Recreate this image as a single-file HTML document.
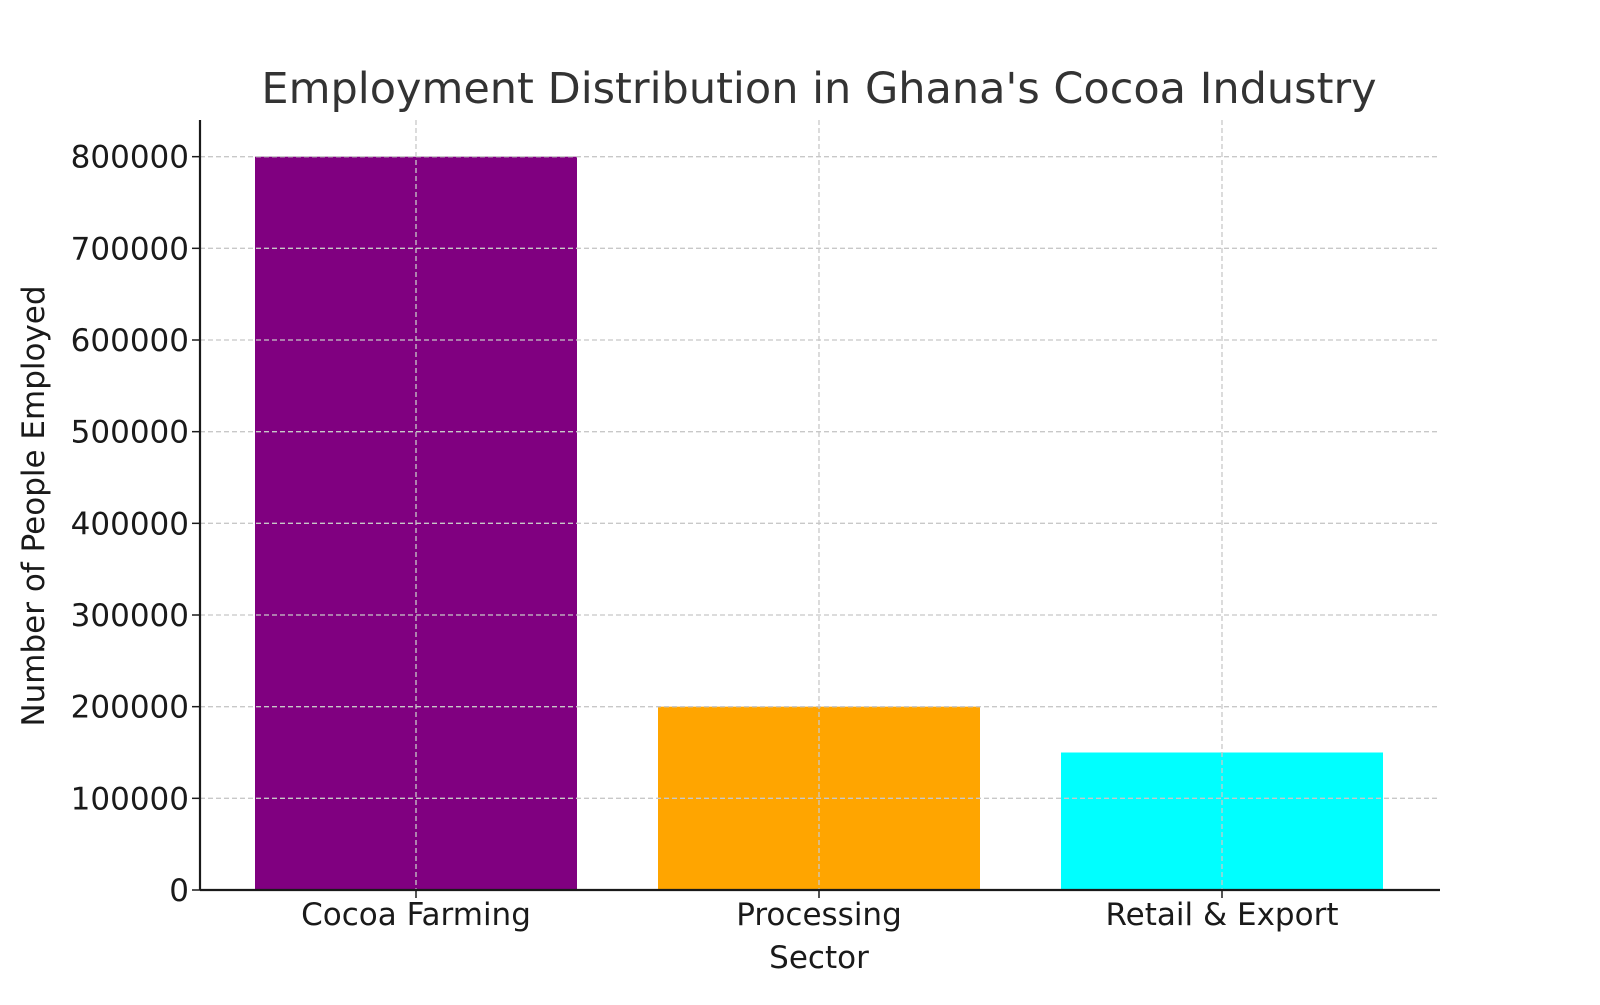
<!DOCTYPE html>
<html><head><meta charset="utf-8"><style>
body{margin:0;background:#fff;}
svg text{font-family:"DejaVu Sans","Liberation Sans",sans-serif;}
</style></head><body>
<svg id="chart" width="1600" height="1000" viewBox="0 0 1600 1000" xmlns="http://www.w3.org/2000/svg">
<rect width="1600" height="1000" fill="#fff"/>
<text x="819" y="103" font-size="43" fill="#333" text-anchor="middle">Employment Distribution in Ghana's Cocoa Industry</text>
<g id="bars"></g><g id="grid"></g><g id="axes"></g>
<text x="819" y="968" font-size="31" fill="#1a1a1a" text-anchor="middle">Sector</text>
<text transform="translate(44,506) rotate(-90)" font-size="31" fill="#1a1a1a" text-anchor="middle">Number of People Employed</text>
</svg>
<script>
const categories=["Cocoa Farming","Processing","Retail & Export"];
const values=[800000,200000,150000];
const colors=["#800080","#ffa500","#00ffff"];
const yTicks=[0,100000,200000,300000,400000,500000,600000,700000,800000];
const NS="http://www.w3.org/2000/svg";
const L=200,R=1440,T=120,B=890,yMax=840000;
const y=v=>B-(v/yMax)*(B-T);
const x=i=>416+i*403;
const bw=322;
function mk(tag,attrs,parent,txt){const e=document.createElementNS(NS,tag);for(const k in attrs)e.setAttribute(k,attrs[k]);if(txt!==undefined)e.textContent=txt;document.getElementById(parent).appendChild(e);return e;}
yTicks.forEach(t=>{
  const g=mk("line",{x1:L,x2:R,y1:y(t),y2:y(t),stroke:"#c8c8c8","stroke-width":1.3,"stroke-dasharray":"5,3"},"grid");
  
  
  const tk=mk("line",{x1:L-8,x2:L,y1:y(t),y2:y(t),stroke:"#1a1a1a","stroke-width":1.5},"axes");
  
  
  const lb=mk("text",{x:L-11,y:y(t)+11,"font-size":31,fill:"#1a1a1a","text-anchor":"end"},"axes",String(t));
  
  
});
categories.forEach((c,i)=>{
  const b=mk("rect",{x:x(i)-bw/2,y:y(values[i]),width:bw,height:B-y(values[i]),fill:colors[i]},"bars");
  
  
  const g=mk("line",{x1:x(i),x2:x(i),y1:T,y2:B,stroke:"#c8c8c8","stroke-width":1.3,"stroke-dasharray":"5,3"},"grid");
  
  
  const tk=mk("line",{x1:x(i),x2:x(i),y1:B,y2:B+8,stroke:"#1a1a1a","stroke-width":1.5},"axes");
  
  
  const lb=mk("text",{x:x(i),y:B+35,"font-size":31,fill:"#1a1a1a","text-anchor":"middle"},"axes",c);
  
  
});
const ax=mk("line",{x1:L,x2:R,y1:B,y2:B,stroke:"#1a1a1a","stroke-width":2.2},"axes");


const ay=mk("line",{x1:L,x2:L,y1:T,y2:B,stroke:"#1a1a1a","stroke-width":2.2},"axes");


</script>
</body></html>
